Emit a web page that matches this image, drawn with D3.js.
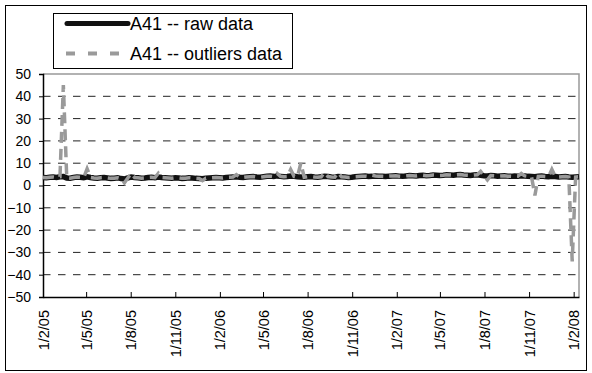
<!DOCTYPE html>
<html>
<head>
<meta charset="utf-8">
<script src="https://cdn.jsdelivr.net/npm/d3@7"></script>
<style>
  body { margin: 0; background: #fff; }
  svg { display: block; font-family: "Liberation Sans", Arial, sans-serif; }
</style>
</head>
<body>
<div id="app"></div>
<script>
// weekly readings, first week 1 Feb 2005
const startDate = new Date(2005, 1, 1);
const endDate = new Date(2008, 1, 12);

const rawData = [
  3.6, 3.5, 3.7, 3.8, 3.6, 3.9, 4.0, 3.4, 3.3, 3.6, 3.8, 3.7, 3.5, 3.9, 3.6, 3.4, 3.3, 3.5, 3.6, 3.4,
  3.2, 3.3, 3.5, 3.1, 2.9, 3.4, 3.8, 3.6, 3.5, 3.3, 3.4, 3.6, 3.7, 3.5, 3.8, 3.6, 3.5, 3.4, 3.3, 3.5,
  3.4, 3.2, 3.3, 3.5, 3.4, 3.2, 3.1, 3.0, 3.3, 3.4, 3.5, 3.6, 3.5, 3.4, 3.6, 3.7, 3.8, 3.9, 3.7, 3.6,
  3.8, 3.9, 4.0, 3.8, 3.7, 3.9, 4.1, 4.2, 4.0, 4.3, 4.1, 3.9, 4.0, 4.2, 4.1, 3.9, 3.8, 3.7, 3.9, 4.0,
  3.8, 3.7, 3.9, 4.1, 4.0, 3.8, 3.7, 4.0, 3.9, 3.8, 3.6, 3.7, 3.9, 4.0, 4.1, 4.2, 4.0, 4.1, 4.3, 4.2,
  4.1, 4.0, 4.2, 4.3, 4.4, 4.2, 4.1, 4.3, 4.5, 4.4, 4.3, 4.5, 4.6, 4.4, 4.5, 4.7, 4.6, 4.5, 4.6, 4.8,
  4.7, 4.6, 4.8, 4.9, 4.7, 4.6, 4.5, 4.7, 4.8, 4.6, 4.4, 4.3, 4.5, 4.4, 4.2, 4.3, 4.4, 4.2, 4.1, 4.3,
  4.2, 4.4, 4.3, 4.1, 4.0, 3.9, 4.1, 4.2, 4.0, 3.9, 4.1, 4.0, 3.8, 3.9, 4.0, 3.8, 3.7, 3.8, 3.9,
];

const outliersData = [
  3.6, 3.5, 3.7, 3.8, 3.6, 3.9, 45, 3.4, 3.3, 3.6, 3.8, 3.7, 3.5, 7.5, 3.6, 3.4, 3.3, 3.5, 3.6, 3.4,
  3.2, 3.3, 3.5, 3.1, 1.2, 3.4, 5.4, 3.6, 3.5, 3.3, 3.4, 3.6, 3.7, 3.5, 5.5, 3.6, 3.5, 3.4, 3.3, 3.5,
  3.4, 3.2, 3.3, 3.5, 3.4, 3.2, 3.1, 2.2, 3.3, 3.4, 3.5, 3.6, 3.5, 3.4, 3.6, 3.7, 3.8, 4.9, 3.7, 3.6,
  3.8, 3.9, 4.0, 3.8, 3.7, 3.9, 4.1, 4.2, 4.0, 5.4, 4.1, 3.9, 4.0, 7.2, 4.1, 3.9, 10, 3.7, 3.9, 4.0,
  3.8, 3.7, 3.9, 5.8, 4.0, 3.8, 3.7, 5.8, 3.9, 3.8, 3.6, 3.7, 3.9, 4.0, 4.1, 4.2, 4.0, 4.6, 4.3, 4.2,
  4.1, 4.0, 4.2, 4.3, 4.4, 4.2, 4.1, 4.3, 4.5, 4.4, 4.3, 4.5, 4.6, 4.4, 4.5, 4.7, 4.6, 4.5, 4.6, 4.8,
  4.7, 4.6, 4.8, 4.9, 4.7, 4.6, 4.5, 4.7, 4.8, 6.3, 4.4, 2.5, 4.5, 4.4, 4.2, 4.3, 4.4, 4.2, 4.1, 4.3,
  4.2, 5.4, 4.3, 4.1, 4.0, -4.5, 4.1, 4.2, 4.0, 3.9, 7.2, 4.0, 3.8, 3.9, 4.0, 3.8, -34, 3.8, 3.9,
];

const yTicks = [50, 40, 30, 20, 10, 0, -10, -20, -30, -40, -50];
const xTickLabels = [
  "1/2/05", "1/5/05", "1/8/05", "1/11/05",
  "1/2/06", "1/5/06", "1/8/06", "1/11/06",
  "1/2/07", "1/5/07", "1/8/07", "1/11/07", "1/2/08",
];
const seriesNames = ["A41 -- raw data", "A41 -- outliers data"];

const width = 592;
const height = 373;
const margin = { top: 74, right: 13, bottom: 76, left: 43 };

const dates = rawData.map((_, i) => d3.timeDay.offset(startDate, i * 7));
const tickDates = xTickLabels.map((s) => d3.timeParse("%d/%m/%y")(s));

const svg = d3
  .select("#app")
  .append("svg")
  .attr("width", width)
  .attr("height", height)
  .attr("viewBox", [0, 0, width, height]);

const x = d3
  .scaleTime()
  .domain([startDate, endDate])
  .range([margin.left, width - margin.right]);

const y = d3
  .scaleLinear()
  .domain([-50, 50])
  .range([height - margin.bottom, margin.top]);

// outer frame
svg
  .append("rect")
  .attr("x", 5.5)
  .attr("y", 5.5)
  .attr("width", 581)
  .attr("height", 365)
  .attr("fill", "#fff")
  .attr("stroke", "#000");

// plot border (top + right are grey)
svg
  .append("path")
  .attr("d", `M${x.range()[0]},${y(50)}H${x.range()[1]}V${y(-50)}`)
  .attr("fill", "none")
  .attr("stroke", "#999")
  .attr("stroke-width", 1.5);

// dashed gridlines
svg
  .append("g")
  .selectAll("line")
  .data(yTicks.filter((d) => d !== 50 && d !== -50))
  .join("line")
  .attr("x1", x.range()[0])
  .attr("x2", x.range()[1])
  .attr("y1", (d) => y(d))
  .attr("y2", (d) => y(d))
  .attr("stroke", "#222")
  .attr("stroke-width", 1)
  .attr("stroke-dasharray", "7.5,7.5");

// y axis
const yAxis = svg
  .append("g")
  .attr("transform", `translate(${margin.left},0)`)
  .call(d3.axisLeft(y).tickValues(yTicks).tickSize(4).tickPadding(8));
yAxis.select(".domain").attr("stroke", "#000").attr("stroke-width", 1.5);
yAxis.selectAll("text").attr("font-size", 14).attr("fill", "#000").attr("font-family", null);

// x axis
const xAxis = svg
  .append("g")
  .attr("transform", `translate(0,${height - margin.bottom})`)
  .call(
    d3
      .axisBottom(x)
      .tickValues(tickDates)
      .tickFormat((d, i) => xTickLabels[i])
      .tickSize(-5)
      .tickSizeOuter(0)
  );
xAxis.select(".domain").attr("stroke", "#000").attr("stroke-width", 1.5);
xAxis
  .selectAll("text")
  .attr("font-size", 14.5)
  .attr("font-family", null)
  .attr("fill", "#000")
  .attr("text-anchor", "end")
  .attr("transform", "rotate(-90)")
  .attr("x", -13)
  .attr("y", 0)
  .attr("dy", "0.35em");

const line = d3
  .line()
  .x((d, i) => x(dates[i]))
  .y((d) => y(d));

svg
  .append("path")
  .datum(rawData)
  .attr("fill", "none")
  .attr("stroke", "#111")
  .attr("stroke-width", 5.5)
  .attr("d", line);

svg
  .append("path")
  .datum(outliersData)
  .attr("fill", "none")
  .attr("stroke", "#9a9a9a")
  .attr("stroke-width", 3.5)
  .attr("stroke-dasharray", "11,6")
  .attr("d", line);

// legend
const legend = svg.append("g").attr("transform", "translate(53,13)");
legend
  .append("rect")
  .attr("x", 0.5)
  .attr("y", 0.5)
  .attr("width", 239)
  .attr("height", 55)
  .attr("fill", "#fff")
  .attr("stroke", "#000");

const legendStyles = [
  { stroke: "#111", width: 5, dash: null, x1: 14, x2: 75 },
  { stroke: "#9a9a9a", width: 4, dash: "9,13", x1: 13, x2: 67 },
];

const rows = legend
  .selectAll("g.row")
  .data(seriesNames)
  .join("g")
  .attr("class", "row")
  .attr("transform", (d, i) => `translate(0,${10.5 + i * 30})`);

rows
  .append("line")
  .attr("x1", (d, i) => legendStyles[i].x1)
  .attr("x2", (d, i) => legendStyles[i].x2)
  .attr("stroke", (d, i) => legendStyles[i].stroke)
  .attr("stroke-width", (d, i) => legendStyles[i].width)
  .attr("stroke-linecap", (d, i) => (i === 0 ? "round" : "butt"))
  .attr("stroke-dasharray", (d, i) => legendStyles[i].dash);

rows
  .append("text")
  .attr("x", 77)
  .attr("dy", "0.35em")
  .attr("font-size", 18)
  .text((d) => d);
</script>
</body>
</html>
